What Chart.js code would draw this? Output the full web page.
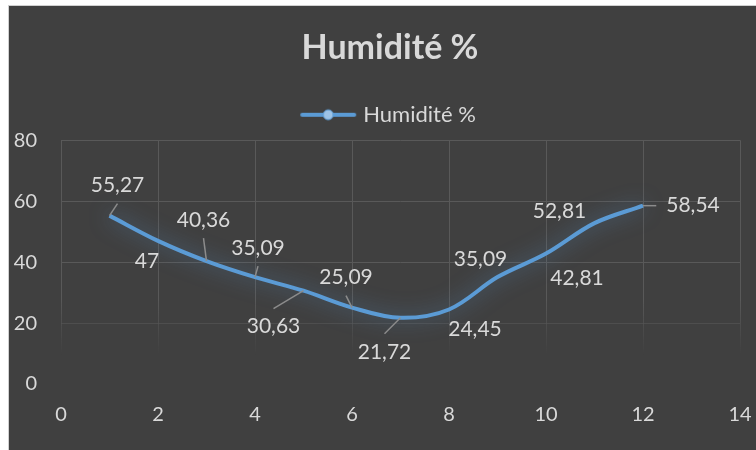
<!DOCTYPE html>
<html>
<head>
<meta charset="utf-8">
<script src="https://cdn.jsdelivr.net/npm/chart.js@4"></script>
<style>
  html, body { margin: 0; background: #fff; overflow: hidden; }
  #wrap {
    position: absolute; left: 8px; top: 5px; width: 762px; height: 450px;
    background: #404040; border-left: 1px solid #d0d0d0; border-top: 1px solid #d0d0d0;
  }
</style>
</head>
<body>
<div id="wrap"><canvas id="chart"></canvas></div>
<script>
// data
const months = [1, 2, 3, 4, 5, 6, 7, 8, 9, 10, 11, 12];
const humidity = [55.27, 47, 40.36, 35.09, 30.63, 25.09, 21.72, 24.45, 35.09, 42.81, 52.81, 58.54];
const xTickValues = [0, 2, 4, 6, 8, 10, 12, 14];
const yTickValues = [0, 20, 40, 60, 80];
const seriesName = 'Humidité %';

// label placement (pixels from the point) and whether a leader line is shown
const labelDx = [8, -11, -3, 3, -30, -6, -16, 26, -17, 31, -35, 50];
const labelDy = [-30, 20, -41, -29, 36, -30, 34, 20, -18, 25, -12, 0];
const leader = [true, false, true, true, true, true, true, false, false, false, false, true];

const TEXT = '#d9d9d9';
const GRID = '89,89,89';
const BLUE = '#5b9bd5';

// grid fades out towards the bottom of the plot
function fadeAlpha(frac) {
  if (frac <= 0.65) return 1;
  if (frac >= 0.88) return 0;
  return (0.88 - frac) / 0.23;
}

// legend icon : line with a marker
const legendIcon = document.createElement('canvas');
legendIcon.width = 58; legendIcon.height = 14;
(() => {
  const c = legendIcon.getContext('2d');
  c.strokeStyle = BLUE; c.lineWidth = 4; c.lineCap = 'round';
  c.beginPath(); c.moveTo(3, 7); c.lineTo(55, 7); c.stroke();
  c.fillStyle = '#9dc3e6'; c.strokeStyle = BLUE; c.lineWidth = 1;
  c.beginPath(); c.arc(29, 7, 5, 0, Math.PI * 2); c.fill(); c.stroke();
})();

const glow = {
  id: 'glow',
  beforeDatasetDraw(chart) {
    const c = chart.ctx;
    c.save();
    c.shadowColor = 'rgba(91,155,213,0.6)';
    c.shadowBlur = 20;
  },
  afterDatasetDraw(chart) { chart.ctx.restore(); }
};

const pointLabels = {
  id: 'pointLabels',
  afterDatasetsDraw(chart) {
    const ctx = chart.ctx;
    const pts = chart.getDatasetMeta(0).data;
    ctx.save();
    ctx.font = '21px Lato';
    ctx.textAlign = 'center';
    ctx.textBaseline = 'middle';
    pts.forEach((p, i) => {
      const cx = p.x + labelDx[i], cy = p.y + labelDy[i];
      const text = String(humidity[i]).replace('.', ',');
      if (leader[i]) {
        const hw = ctx.measureText(text).width / 2, hh = 8, gap = 10;
        let ex = cx, ey = cy;
        if (Math.abs(labelDy[i]) >= Math.abs(labelDx[i])) ey = labelDy[i] < 0 ? cy + hh + gap : cy - hh - gap;
        else ex = labelDx[i] > 0 ? cx - hw - gap : cx + hw + gap;
        ctx.strokeStyle = '#8c8c8c';
        ctx.lineWidth = 1.5;
        ctx.beginPath(); ctx.moveTo(p.x, p.y); ctx.lineTo(ex, ey); ctx.stroke();
      }
      ctx.fillStyle = TEXT;
      ctx.fillText(text, cx, cy);
    });
    ctx.restore();
  }
};

new Chart(document.getElementById('chart'), {
  type: 'scatter',
  data: {
    datasets: [{
      label: seriesName,
      data: months.map((m, i) => ({ x: m, y: humidity[i] })),
      showLine: true,
      borderColor: BLUE,
      borderWidth: 4,
      pointRadius: 0,
      tension: 0.35
    }]
  },
  options: {
    responsive: true,
    maintainAspectRatio: false,
    animation: false,
    layout: { padding: 0 },
    plugins: {
      title: {
        display: true, text: seriesName, color: TEXT,
        font: { family: 'Lato', size: 34, weight: 'bold', lineHeight: 1.2 },
        padding: { top: 22, bottom: 25 }
      },
      subtitle: {
        display: true, text: '', weight: 500,
        font: { size: 4.5, lineHeight: 1 }, padding: 0
      },
      legend: {
        labels: {
          color: TEXT,
          font: { family: 'Lato', size: 22 },
          usePointStyle: true,
          pointStyleWidth: 48,
          padding: 10,
          generateLabels: () => [{
            text: seriesName, pointStyle: legendIcon, fontColor: TEXT,
            datasetIndex: 0, hidden: false, lineWidth: 0
          }]
        }
      },
      tooltip: { enabled: false }
    },
    scales: {
      x: {
        type: 'linear', min: 0, max: 14,
        afterBuildTicks: s => { s.ticks = xTickValues.map(v => ({ value: v })); },
        afterFit: s => { s.height = 72; s.paddingRight = 31; },
        border: { display: false },
        grid: {
          drawTicks: false,
          lineWidth: 1,
          color: c => {
            const ca = c.chart.chartArea;
            if (!ca) return 'rgb(' + GRID + ')';
            const g = c.chart.ctx.createLinearGradient(0, ca.top, 0, ca.bottom);
            g.addColorStop(0, 'rgba(' + GRID + ',1)');
            g.addColorStop(0.65, 'rgba(' + GRID + ',1)');
            g.addColorStop(0.88, 'rgba(' + GRID + ',0)');
            g.addColorStop(1, 'rgba(' + GRID + ',0)');
            return g;
          }
        },
        ticks: { color: TEXT, padding: 19, font: { family: 'Lato', size: 20 } }
      },
      y: {
        min: 0, max: 80,
        afterBuildTicks: s => { s.ticks = yTickValues.map(v => ({ value: v })); },
        afterFit: s => { s.width = 52; },
        border: { display: false },
        grid: {
          drawTicks: false,
          lineWidth: 1,
          color: c => {
            const v = c.tick ? c.tick.value : 0;
            return 'rgba(' + GRID + ',' + fadeAlpha(1 - v / 80) + ')';
          }
        },
        ticks: { color: TEXT, padding: 24, font: { family: 'Lato', size: 20 } }
      }
    }
  },
  plugins: [glow, pointLabels]
});
</script>
</body>
</html>
